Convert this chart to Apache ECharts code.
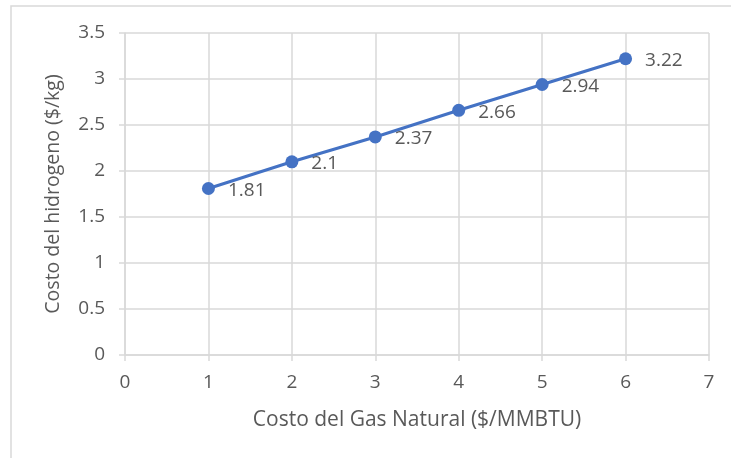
<!DOCTYPE html>
<html>
<head>
<meta charset="utf-8">
<script src="https://cdn.jsdelivr.net/npm/echarts@6/dist/echarts.min.js"></script>
<style>
  html, body { margin: 0; padding: 0; background: #fff; }
  #chart { width: 731px; height: 458px; }
</style>
</head>
<body>
<div id="chart"></div>
<script>
// Natural gas price ($/MMBTU) versus hydrogen production cost ($/kg)
const gasPrices = [1, 2, 3, 4, 5, 6];
const hydrogenCost = [1.81, 2.1, 2.37, 2.66, 2.94, 3.22];
const xTitle = 'Costo del Gas Natural ($/MMBTU)';
const yTitle = 'Costo del hidrogeno ($/kg)';

const textColor = '#595959';
const gridColor = '#d9d9d9';
const fontFamily = '"Open Sans", "Liberation Sans", sans-serif';

const chart = echarts.init(document.getElementById('chart'), null, { renderer: 'canvas' });
chart.setOption({
  backgroundColor: '#fff',
  animation: false,
  textStyle: { fontFamily: fontFamily },
  graphic: [{
    type: 'rect',
    shape: { x: 11, y: 6, width: 760, height: 500 },
    style: { fill: 'none', stroke: '#d9d9d9', lineWidth: 1.5 },
    silent: true
  }],
  grid: { left: 125, right: 22, top: 33, bottom: 103 },
  xAxis: {
    type: 'value',
    min: 0, max: 7, interval: 1,
    name: xTitle,
    nameLocation: 'middle',
    nameGap: 55,
    nameTextStyle: { color: textColor, fontSize: 21, fontFamily: fontFamily },
    axisLine: { show: true, lineStyle: { color: gridColor, width: 1.5 } },
    axisTick: { show: true, length: 6, lineStyle: { color: gridColor, width: 1.5 } },
    axisLabel: { color: textColor, fontSize: 19, margin: 18, fontFamily: fontFamily },
    splitLine: { show: true, lineStyle: { color: gridColor, width: 1.5 } }
  },
  yAxis: {
    type: 'value',
    min: 0, max: 3.5, interval: 0.5,
    name: yTitle,
    nameLocation: 'middle',
    nameGap: 62,
    nameTextStyle: { color: textColor, fontSize: 19.5, fontFamily: fontFamily },
    axisLine: { show: true, lineStyle: { color: gridColor, width: 1.5 } },
    axisTick: { show: true, length: 6, lineStyle: { color: gridColor, width: 1.5 } },
    axisLabel: { color: textColor, fontSize: 19, margin: 20, fontFamily: fontFamily },
    splitLine: { show: true, lineStyle: { color: gridColor, width: 1.5 } }
  },
  series: [{
    type: 'line',
    data: gasPrices.map((x, i) => [x, hydrogenCost[i]]),
    symbol: 'circle',
    symbolSize: 13,
    lineStyle: { color: '#4472C4', width: 3 },
    itemStyle: { color: '#4472C4' },
    label: {
      show: true,
      position: 'right',
      distance: 13,
      offset: [0, 2],
      color: textColor,
      fontSize: 19,
      fontFamily: fontFamily,
      formatter: p => String(p.value[1])
    }
  }]
});
</script>
</body>
</html>
